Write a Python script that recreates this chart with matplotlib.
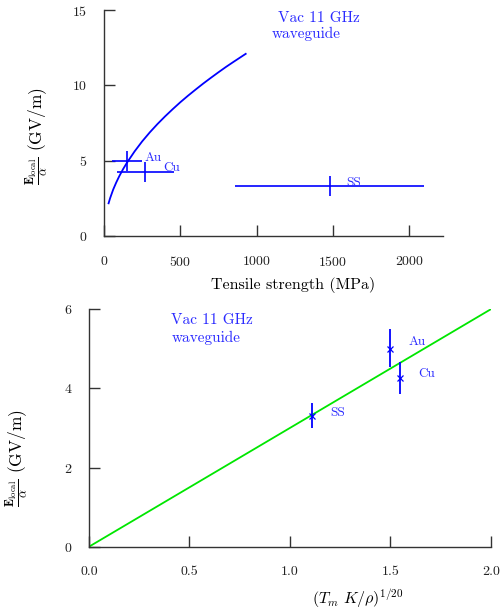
import numpy as np
import matplotlib
matplotlib.use("Agg")
import matplotlib.pyplot as plt

plt.rcParams["font.family"] = ["cmr10", "DejaVu Serif"]
plt.rcParams["mathtext.fontset"] = "cm"
plt.rcParams["axes.formatter.use_mathtext"] = True

# --- upper panel: field limit vs tensile strength ---
model_strength = [30, 40, 60, 80, 100, 125, 150, 200, 250, 300, 350, 400, 450,
                  500, 550, 600, 650, 700, 750, 800, 850, 928]
model_field = [2.17, 2.51, 3.08, 3.55, 3.97, 4.44, 4.86, 5.61, 6.28, 6.88, 7.43,
               7.94, 8.42, 8.88, 9.31, 9.72, 10.12, 10.50, 10.87, 11.23, 11.57, 12.09]

materials = ["Au", "Cu", "SS"]
strength = [150, 271, 1481]
strength_lo = [50, 83, 860]
strength_hi = [247, 459, 2097]
field_top = [5.0, 4.24, 3.31]

# --- lower panel: field limit vs (T_m K / rho)^(1/20) ---
scaling = [1.50, 1.55, 1.11]
field_bot = [5.0, 4.26, 3.31]
field_err_lo = [0.45, 0.40, 0.32]
field_err_hi = [0.50, 0.42, 0.31]
fit_x = [0.0, 2.0]
fit_y = [0.0, 6.0]

blue = "#0000ff"
txt_blue = "#2a2aff"
green = "#00e600"
spine_col = "#333333"

ylabel_txt = r"$\frac{\mathbf{E}_{\rm local}}{\alpha}$ (GV/m)"

fig = plt.figure(figsize=(5.01, 6.14), dpi=100)

def style_axes(ax):
    for s in ("top", "right"):
        ax.spines[s].set_visible(False)
    for s in ("left", "bottom"):
        ax.spines[s].set_color(spine_col)
        ax.spines[s].set_linewidth(1.0)
    ax.tick_params(direction="in", length=8, width=1, colors=spine_col,
                   labelcolor="#222222", labelsize=10)
    ax.tick_params(axis="x", pad=14)
    ax.tick_params(axis="y", pad=12)

ax1 = fig.add_axes([104 / 501, (614 - 236) / 614, 339 / 501, 226 / 614])
style_axes(ax1)
ax1.plot(model_strength, model_field, color=blue, lw=1.3)
xerr = [np.subtract(strength, strength_lo), np.subtract(strength_hi, strength)]
ax1.errorbar(strength, field_top, xerr=xerr, fmt="|", color=blue, ms=14,
             mew=1.2, elinewidth=1.2, capsize=0)
ax1.text(265, 5.15, "Au", color=txt_blue, fontsize=9.5, va="center", ha="left")
ax1.text(385, 4.55, "Cu", color=txt_blue, fontsize=9.5, va="center", ha="left")
ax1.text(1585, 3.55, "SS", color=txt_blue, fontsize=9.5, va="center", ha="left")
ax1.text(1140, 14.45, "Vac 11 GHz", color=txt_blue, fontsize=11, va="center", ha="left")
ax1.text(1100, 13.4, "waveguide", color=txt_blue, fontsize=11, va="center", ha="left")
ax1.set_xlim(0, 2220)
ax1.set_ylim(0, 15)
ax1.set_xticks([0, 500, 1000, 1500, 2000])
ax1.set_yticks([0, 5, 10, 15])
ax1.set_xlabel("Tensile strength (MPa)", fontsize=11.5)
ax1.xaxis.set_label_coords(0.5575, -0.18)
ax1.set_ylabel(ylabel_txt, fontsize=12.5)
ax1.yaxis.set_label_coords(-0.159, 0.442)

ax2 = fig.add_axes([89 / 501, (614 - 546.7) / 614, 401.7 / 501, 237.4 / 614])
style_axes(ax2)
ax2.plot(fit_x, fit_y, color=green, lw=1.3)
ax2.errorbar(scaling, field_bot, yerr=[field_err_lo, field_err_hi], fmt="x",
             color=blue, ms=5, mew=0.9, elinewidth=1.3, capsize=0)
ax2.text(1.59, 5.02, "Au", color=txt_blue, fontsize=9.5, va="bottom", ha="left")
ax2.text(1.64, 4.36, "Cu", color=txt_blue, fontsize=9.5, va="center", ha="left")
ax2.text(1.20, 3.38, "SS", color=txt_blue, fontsize=9.5, va="center", ha="left")
ax2.text(0.41, 5.72, "Vac 11 GHz", color=txt_blue, fontsize=11, va="center", ha="left")
ax2.text(0.41, 5.28, "waveguide", color=txt_blue, fontsize=11, va="center", ha="left")
ax2.set_xlim(0, 2.0)
ax2.set_ylim(0, 6)
ax2.set_xticks([0.0, 0.5, 1.0, 1.5, 2.0])
ax2.set_xticklabels(["0.0", "0.5", "1.0", "1.5", "2.0"])
ax2.set_yticks([0, 2, 4, 6])
ax2.set_xlabel(r"$(T_m\ K/\rho)^{1/20}$", fontsize=11.5)
ax2.xaxis.set_label_coords(0.67, -0.17)
ax2.set_ylabel(ylabel_txt, fontsize=12.5)
ax2.yaxis.set_label_coords(-0.147, 0.374)

fig.savefig("out.png", dpi=100)
